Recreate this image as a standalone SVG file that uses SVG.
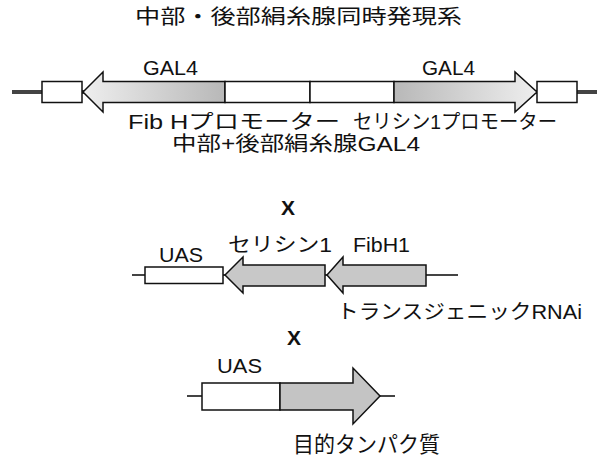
<svg xmlns="http://www.w3.org/2000/svg" width="607" height="461" viewBox="0 0 607 461">
<defs>
<linearGradient id="gL" x1="0" y1="0" x2="1" y2="0"><stop offset="0" stop-color="#eeeeee"/><stop offset="1" stop-color="#b8b8b8"/></linearGradient>
<linearGradient id="gR" x1="0" y1="0" x2="1" y2="0"><stop offset="0" stop-color="#b8b8b8"/><stop offset="1" stop-color="#eeeeee"/></linearGradient>
</defs>
<style>
text{font-family:"Liberation Sans","Noto Sans CJK JP",sans-serif;fill:#111}
.cj{font-family:"Noto Sans CJK JP",sans-serif}
.box{fill:#fff;stroke:#111;stroke-width:1.5}
.arr{stroke:#111;stroke-width:1.5;stroke-linejoin:miter}
.g2{fill:#c8c8c8}
.ln{stroke:#444;fill:none}
.x{font-weight:bold}
</style>
<text class="cj" x="135" y="24" font-size="20" textLength="327" lengthAdjust="spacingAndGlyphs">中部・後部絹糸腺同時発現系</text>
<g id="connectors">
<line class="ln" x1="12" y1="92" x2="597" y2="92" stroke-width="4"/>
<line class="ln" x1="132" y1="275" x2="458" y2="275" stroke-width="2"/>
<line class="ln" x1="187" y1="396" x2="395" y2="396" stroke-width="2"/>
</g>
<g id="row1-left-box"><rect class="box" x="42" y="81.5" width="40" height="21"/></g>
<g id="row1-left-gal4"><path class="arr" fill="url(#gL)" d="M83,92 L103,72 L103,81.5 L225,81.5 L225,102.5 L103,102.5 L103,112 Z"/>
<text x="143" y="75" font-size="19.5" textLength="55" lengthAdjust="spacingAndGlyphs">GAL4</text></g>
<g id="fibh-promoter"><rect class="box" x="225" y="81.5" width="85" height="21"/></g>
<g id="sericin-promoter"><rect class="box" x="310" y="81.5" width="84" height="21"/></g>
<g id="row1-right-gal4"><path class="arr" fill="url(#gR)" d="M394,81.5 L515,81.5 L515,72 L537,92 L515,112 L515,102.5 L394,102.5 Z"/>
<text x="422" y="75" font-size="19.5" textLength="53" lengthAdjust="spacingAndGlyphs">GAL4</text></g>
<g id="row1-right-box"><rect class="box" x="537" y="81.5" width="40" height="21"/></g>
<g id="labels1">
<text x="128" y="129" font-size="20" textLength="212" lengthAdjust="spacingAndGlyphs">Fib Hプロモーター</text>
<text x="353" y="129" font-size="20" textLength="204" lengthAdjust="spacingAndGlyphs">セリシン1プロモーター</text>
<text x="172" y="151" font-size="20" textLength="248" lengthAdjust="spacingAndGlyphs">中部+後部絹糸腺GAL4</text>
</g>
<text class="x" x="288" y="215" font-size="21" text-anchor="middle">X</text>
<g id="row2-uas"><rect class="box" x="145" y="267" width="78" height="16.5"/>
<text x="159" y="262" font-size="20" textLength="44" lengthAdjust="spacingAndGlyphs">UAS</text></g>
<g id="row2-sericin1"><path class="arr g2" d="M225,275 L243,257 L243,265 L325,265 L325,286 L243,286 L243,293 Z"/>
<text x="228" y="252" font-size="20" textLength="104" lengthAdjust="spacingAndGlyphs">セリシン1</text></g>
<g id="row2-fibh1"><path class="arr g2" d="M327,275 L343,257 L343,265 L426,265 L426,286 L343,286 L343,293 Z"/>
<text x="353" y="252" font-size="20" textLength="57" lengthAdjust="spacingAndGlyphs">FibH1</text></g>
<text x="337" y="319" font-size="20" textLength="245" lengthAdjust="spacingAndGlyphs">トランスジェニックRNAi</text>
<text class="x" x="294" y="345" font-size="21" text-anchor="middle">X</text>
<g id="row3-uas"><rect class="box" x="202" y="383" width="78" height="27"/>
<text x="217" y="373" font-size="20" textLength="45" lengthAdjust="spacingAndGlyphs">UAS</text></g>
<g id="row3-target"><path class="arr" fill="#c4c4c4" d="M280,383 L353,383 L353,368 L380,396 L353,424 L353,410 L280,410 Z"/>
<text x="293" y="452" font-size="22" textLength="147" lengthAdjust="spacingAndGlyphs">目的タンパク質</text></g>
</svg>
